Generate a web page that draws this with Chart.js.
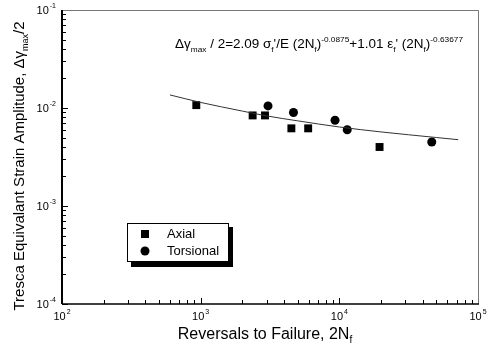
<!DOCTYPE html>
<html>
<head>
<meta charset="utf-8">
<script src="https://cdn.jsdelivr.net/npm/chart.js@4.4.0/dist/chart.umd.min.js"></script>
<style>
  html, body { margin: 0; padding: 0; background: #fff; }
  #wrap { width: 494px; height: 364px; position: relative; }
</style>
</head>
<body>
<div id="wrap"><canvas id="chart" width="494" height="364"></canvas></div>
<script>
// values
const axialX = [930, 2370, 2910, 4510, 5960, 19500];
const axialY = [0.0107, 0.0084, 0.0084, 0.0062, 0.0062, 0.0040];
const torsX = [3060, 4670, 9310, 11400, 46400];
const torsY = [0.0105, 0.0090, 0.0075, 0.0060, 0.0045];
const fitX = [600, 1000, 2000, 3000, 5000, 10000, 20000, 50000, 72000];
const fitY = [0.0136, 0.0114, 0.0093, 0.0083, 0.0074, 0.0064, 0.0057, 0.0050, 0.00475];
const xDecades = [2, 3, 4, 5];
const yDecades = [-1, -2, -3, -4];

const FONT = '"Liberation Sans", Arial, sans-serif';

function pts(xs, ys) {
    return xs.map((x, i) => ({ x: x, y: ys[i] }));
}

// draw "10" with raised exponent
function drawPow(ctx, exp, x, y, align) {
    ctx.font = '11px ' + FONT;
    const base = ctx.measureText('10').width;
    ctx.font = '7px ' + FONT;
    const sup = ctx.measureText(String(exp)).width;
    const total = base + sup + 1;
    let x0 = x;
    if (align === 'center') x0 = x - total / 2;
    if (align === 'right') x0 = x - total;
    ctx.textAlign = 'left';
    ctx.textBaseline = 'alphabetic';
    ctx.font = '11px ' + FONT;
    ctx.fillText('10', x0, y);
    ctx.font = '7px ' + FONT;
    ctx.fillText(String(exp), x0 + base + 1, y - 6);
}

// draw a run of pieces: [text, mode] mode = 'n' | 'sub' | 'sup'
function drawRich(ctx, parts, x, y, size) {
    let cx = x;
    parts.forEach(p => {
        const small = p[1] !== 'n';
        ctx.font = (small ? Math.round(size * 0.62) : size) + 'px ' + FONT;
        let dy = 0;
        if (p[1] === 'sub') dy = size * 0.27;
        if (p[1] === 'sup') dy = -size * 0.5;
        ctx.fillText(p[0], cx, y + dy);
        cx += ctx.measureText(p[0]).width;
    });
    return cx - x;
}

function measureRich(ctx, parts, size) {
    let w = 0;
    parts.forEach(p => {
        const small = p[1] !== 'n';
        ctx.font = (small ? Math.round(size * 0.62) : size) + 'px ' + FONT;
        w += ctx.measureText(p[0]).width;
    });
    return w;
}

const axesPlugin = {
    id: 'axesPlugin',
    afterDatasetsDraw(chart) {
        const ctx = chart.ctx;
        const a = chart.chartArea;
        const xs = chart.scales.x;
        const ys = chart.scales.y;
        ctx.save();
        ctx.fillStyle = '#000';
        ctx.strokeStyle = '#000';

        // top and right frame
        ctx.strokeStyle = '#777';
        ctx.lineWidth = 1;
        ctx.beginPath();
        ctx.moveTo(a.left, a.top + 0.5);
        ctx.lineTo(a.right + 0.5, a.top + 0.5);
        ctx.lineTo(a.right + 0.5, a.bottom);
        ctx.stroke();

        // left and bottom axes
        ctx.strokeStyle = '#000';
        ctx.lineWidth = 2;
        ctx.beginPath();
        ctx.moveTo(a.left, a.top);
        ctx.lineTo(a.left, a.bottom);
        ctx.stroke();
        ctx.lineWidth = 1.5;
        ctx.beginPath();
        ctx.moveTo(a.left, a.bottom);
        ctx.lineTo(a.right + 1, a.bottom);
        ctx.stroke();

        // ticks
        ctx.lineWidth = 1;
        ctx.beginPath();
        for (let d = 2; d < 5; d++) {
            for (let m = 1; m <= 9; m++) {
                const px = Math.round(xs.getPixelForValue(m * Math.pow(10, d))) + 0.5;
                const len = m === 1 ? 6 : 4;
                ctx.moveTo(px, a.bottom);
                ctx.lineTo(px, a.bottom - len);
            }
        }
        for (let d = -4; d < -1; d++) {
            for (let m = 1; m <= 9; m++) {
                const py = Math.round(ys.getPixelForValue(m * Math.pow(10, d))) + 0.5;
                const len = m === 1 ? 6 : 4;
                ctx.moveTo(a.left, py);
                ctx.lineTo(a.left + len, py);
            }
        }
        ctx.stroke();

        // tick labels
        xDecades.forEach(e => {
            const px = xs.getPixelForValue(Math.pow(10, e));
            drawPow(ctx, e, px, 320, 'center');
        });
        yDecades.forEach(e => {
            const py = ys.getPixelForValue(Math.pow(10, e));
            drawPow(ctx, e, a.left - 6, py + 4, 'right');
        });

        // x title
        ctx.textAlign = 'left';
        ctx.textBaseline = 'alphabetic';
        const xt = [['Reversals to Failure, 2N', 'n'], ['f', 'sub']];
        const xw = measureRich(ctx, xt, 16);
        drawRich(ctx, xt, 265 - xw / 2, 339, 16);

        // y title
        const yt = [['Tresca Equivalant Strain Amplitude, \u0394\u03b3', 'n'], ['max', 'sub'], ['/2', 'n']];
        const yw = measureRich(ctx, yt, 15);
        ctx.save();
        ctx.translate(24, 166);
        ctx.rotate(-Math.PI / 2);
        drawRich(ctx, yt, -yw / 2, 0, 15);
        ctx.restore();

        // equation
        const eq = [
            ['\u0394\u03b3', 'n'], ['max', 'sub'], [' / 2=2.09 \u03c3', 'n'], ['f', 'sub'],
            ['\'/E (2N', 'n'], ['f', 'sub'], [')', 'n'], ['-0.0875', 'sup'],
            ['+1.01 \u03b5', 'n'], ['f', 'sub'], ['\' (2N', 'n'], ['f', 'sub'], [')', 'n'], ['-0.63677', 'sup']
        ];
        const ew = measureRich(ctx, eq, 13);
        ctx.save();
        ctx.translate(175, 48);
        ctx.scale(288 / ew, 1);
        drawRich(ctx, eq, 0, 0, 13);
        ctx.restore();

        // legend box with shadow
        ctx.fillStyle = '#000';
        ctx.fillRect(131, 227, 102, 40);
        ctx.fillStyle = '#fff';
        ctx.fillRect(127, 223, 102, 39);
        ctx.strokeStyle = '#000';
        ctx.lineWidth = 1;
        ctx.strokeRect(127.5, 223.5, 101, 38);
        ctx.fillStyle = '#000';
        ctx.fillRect(141, 230, 8, 8);
        ctx.beginPath();
        ctx.arc(145, 251, 4.5, 0, Math.PI * 2);
        ctx.fill();
        ctx.font = '13px ' + FONT;
        ctx.textAlign = 'left';
        ctx.textBaseline = 'middle';
        ctx.fillText('Axial', 167, 234);
        ctx.fillText('Torsional', 167, 251);

        ctx.restore();
    }
};

new Chart(document.getElementById('chart'), {
    type: 'scatter',
    data: {
        datasets: [
            {
                label: 'Fit',
                data: pts(fitX, fitY),
                showLine: true,
                borderColor: '#333',
                borderWidth: 1,
                pointRadius: 0,
                cubicInterpolationMode: 'monotone'
            },
            {
                label: 'Axial',
                data: pts(axialX, axialY),
                pointStyle: 'rect',
                pointRadius: 5.6,
                backgroundColor: '#000',
                borderColor: '#000',
                borderWidth: 0
            },
            {
                label: 'Torsional',
                data: pts(torsX, torsY),
                pointStyle: 'circle',
                pointRadius: 4.5,
                backgroundColor: '#000',
                borderColor: '#000',
                borderWidth: 0
            }
        ]
    },
    options: {
        responsive: false,
        animation: false,
        devicePixelRatio: 1,
        layout: { padding: { left: 62, top: 10, right: 16, bottom: 60 } },
        plugins: {
            legend: { display: false },
            tooltip: { enabled: false }
        },
        scales: {
            x: { type: 'logarithmic', min: 100, max: 100000, display: false },
            y: { type: 'logarithmic', min: 0.0001, max: 0.1, display: false }
        }
    },
    plugins: [axesPlugin]
});
</script>
</body>
</html>
